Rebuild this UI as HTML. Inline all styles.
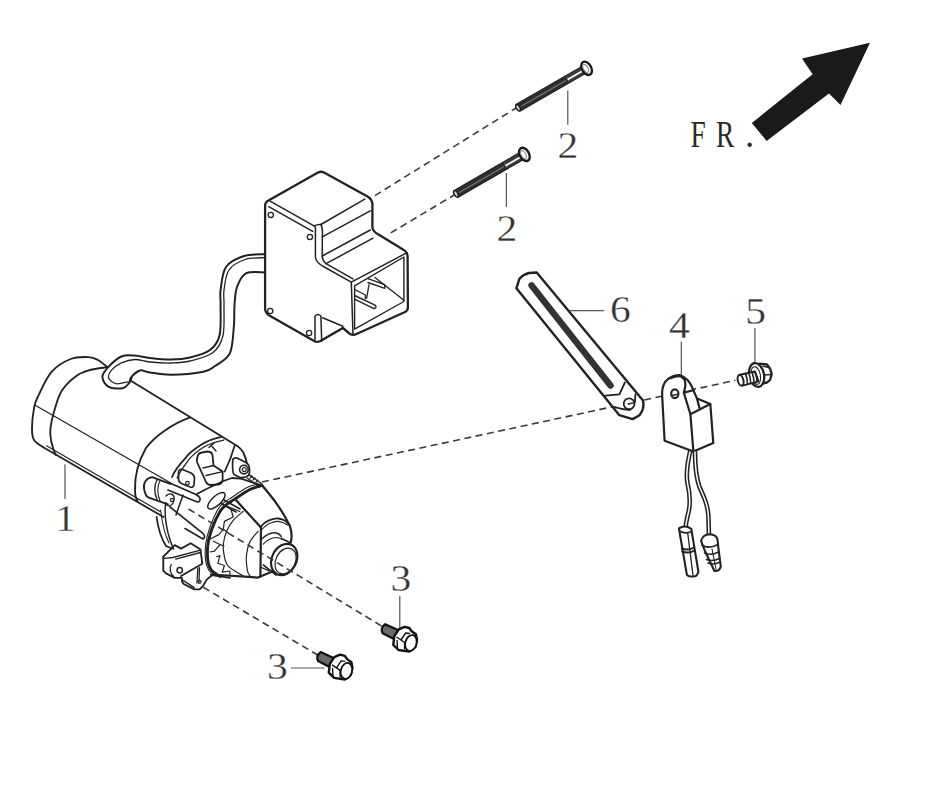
<!DOCTYPE html>
<html><head><meta charset="utf-8"><style>
html,body{margin:0;padding:0;background:#fff;width:947px;height:790px;overflow:hidden}
svg{display:block}
.t{font-family:"Liberation Serif",serif;font-size:36px;fill:#333;stroke:#fff;stroke-width:0.3}
.ln{stroke:#222;stroke-linejoin:round;stroke-linecap:round}
.th{fill:none;stroke:#333;stroke-width:1.1}
.ld{fill:none;stroke:#555;stroke-width:1.2}
.ds{fill:none;stroke:#3a3a3a;stroke-width:1.6;stroke-dasharray:7 4.5}
</style></head><body>
<svg width="947" height="790" viewBox="0 0 947 790" stroke-width="1.8" fill="none">
<rect width="947" height="790" fill="#fff"/>
<!-- FR arrow -->
<polygon points="870,42.7 802,58.5 812.6,74.3 751.8,123 766.6,140.9 829,93.4 840.5,105" fill="#1a1a1a"/>
<g class="t" style="font-size:37px;stroke:none;fill:#2a2a2a">
<text transform="translate(690.5 147.3) scale(0.74 1)">F</text>
<text transform="translate(716 147.3) scale(0.74 1)">R</text>
<text transform="translate(745 147.3)">.</text>
</g>
<!-- labels -->
<g class="t" text-anchor="middle" style="font-size:38.5px">
<text transform="translate(568 157.6) scale(1.08 1)">2</text>
<text transform="translate(507 240.5) scale(1.08 1)">2</text>
<text transform="translate(620.4 321.8) scale(1.08 1)">6</text>
<text transform="translate(679.5 337.8) scale(1.08 1)">4</text>
<text transform="translate(755.7 323.7) scale(1.08 1)">5</text>
<text transform="translate(65.4 531.4) scale(1.08 1)">1</text>
<text transform="translate(400.9 591.4) scale(1.08 1)">3</text>
<text transform="translate(277.3 678.8) scale(1.08 1)">3</text>
</g>
<g class="ld">
<path d="M567.8 90.5V124.7M506.4 173V207M569.8 310.6H604.2M681.3 341.4V375M754.9 328V364.4M65 464.2V499M399.8 596V628.4M291 668H324.4"/>
</g>
<!-- dashed lines -->
<g class="ds">
<path d="M517.7 107L370.2 198.5"/>
<path d="M456 193.9L388 234.5"/>
<path d="M262 482L735.4 380.4"/>
<path d="M203.3 587.3L317.7 655"/>
</g>


<!-- BOX -->
<g class="ln" stroke-width="2.3">
<path d="M265.1 206 Q265.1 202 268.5 200.5 L318 172.5 Q320.9 171 324 172.5 L367.5 196.5 Q372.4 199.5 372.4 204.5 L372.4 227.3 Q373 231.5 378.5 234.5 L403 249.5 Q407.6 252 407.6 257 L407.9 307.5 Q407.9 310.5 405 312 L356.5 334 Q353 335.5 350 334 L342.9 328 L322.6 339.7 Q319 342.8 315 341.5 L270.2 316 Q265.1 313 265.1 309 Z" fill="#fff"/>
</g>
<g class="ln" stroke-width="1.5">
<path d="M270.1 201.2 L314 225.9 Q318 224 320.9 224.5 L364.8 199.1"/>
<path d="M268.7 206.7 L312.7 231.4"/>
<path d="M314 225.9 Q316 226 315.4 232 L315.4 257 Q316 263 324.3 267 L351.3 282.2"/>
<path d="M320.9 224.5 Q323 228 322.3 236.9 L322.3 256 Q322 260 326 263.7 L353 278.9"/>
<path d="M322.3 236.9 L370.3 210.8 M322.3 256 L370.3 230 M326 263.7 L373 238.2"/>
<path d="M351.3 282.2 L407 252.7"/>
<path d="M354.6 285.9 L403.9 257 L403.9 301.5 L354.6 329.2 Z" stroke-width="1.4"/>
<path d="M351.3 282.2 L353 334.6"/>
<path d="M315 316 Q318 313 320.9 316 L321.7 341.4 M315 316 L315 340"/>
<path d="M322.6 317.7 L342.9 326.2 M322.6 339.7 L342.9 327.9"/>
<path d="M375 277.5 L403.9 300.3" stroke-width="1.3"/>
<path d="M367.9 278.7 L384.7 284.7 L384.7 288.3 L368 282.5" stroke-width="1.4"/>
<path d="M354.6 295.5 L375 305.1 Q377.5 307.5 373.9 308.7 L354.6 299.1" stroke-width="1.4"/>
<path d="M354.6 289.5 L365.4 295 L365.4 298.5 M369 284.7 L366.7 298" stroke-width="1.3"/>
</g>
<g class="ln" stroke-width="1.3" fill="#fff">
<circle cx="270.8" cy="214.9" r="2.6"/><circle cx="309.9" cy="236.9" r="2.6"/>
<circle cx="270.2" cy="311" r="2.6"/><circle cx="309.1" cy="333" r="2.6"/>
</g>
<!-- WIRE -->
<g class="ln">
<path d="M265.0 254.2 C261.5 254.5 250.5 253.9 244.0 256.0 C237.5 258.1 229.9 261.3 226.0 267.0 C222.1 272.7 221.5 283.7 220.6 290.0 C219.7 296.3 220.8 297.5 220.6 305.0 C220.4 312.5 221.4 327.7 219.6 335.2 C217.8 342.7 214.9 346.3 210.0 350.0 C205.1 353.7 196.5 355.9 190.0 357.5 C183.5 359.1 177.7 359.4 171.0 359.5 C164.3 359.6 156.1 358.7 150.0 358.0 C143.9 357.3 139.4 355.8 134.6 355.5 C129.8 355.2 125.7 354.6 121.4 356.5 C117.1 358.4 111.9 363.2 108.7 366.6 C105.5 370.0 102.4 373.4 102.4 376.8 C102.4 380.2 105.3 385.0 108.7 386.9 C112.1 388.8 119.3 388.8 122.7 388.2 C126.1 387.6 127.5 384.8 129.0 383.1 C130.5 381.4 131.1 378.9 131.5 378.0" stroke-width="2"/>
<path d="M265.0 257.6 C261.7 257.9 251.0 257.4 245.0 259.5 C239.0 261.6 232.5 264.9 229.0 270.0 C225.5 275.1 224.8 284.2 224.0 290.0 C223.2 295.8 224.2 297.4 224.0 305.0 C223.8 312.6 224.8 327.6 223.0 335.5 C221.2 343.4 218.5 348.2 213.0 352.5 C207.5 356.8 197.0 359.2 190.0 361.0 C183.0 362.8 177.7 362.8 171.0 363.0 C164.3 363.2 156.0 362.6 150.0 362.0 C144.0 361.4 139.8 359.4 135.0 359.5 C130.2 359.6 125.4 361.0 121.4 362.8 C117.5 364.6 113.4 367.9 111.3 370.4 C109.2 372.9 107.9 375.8 108.7 378.0 C109.5 380.2 113.1 383.1 116.3 383.7 C119.5 384.3 125.8 382.1 127.7 381.8" stroke-width="1.3"/>
<path d="M265.0 272.4 C261.8 272.6 250.7 271.0 246.0 273.4 C241.3 275.8 238.9 281.7 237.0 287.0 C235.1 292.3 235.0 298.3 234.5 305.0 C234.0 311.7 234.6 318.9 233.8 327.0 C233.0 335.1 232.9 346.9 229.8 353.4 C226.7 359.9 219.4 362.9 215.0 366.0 C210.6 369.1 210.7 370.2 203.4 371.7 C196.1 373.1 179.9 374.6 171.0 374.7 C162.1 374.8 155.2 373.2 150.0 372.5 C144.8 371.8 143.1 369.7 140.0 370.4 C136.9 371.1 133.2 374.9 131.5 376.8 C129.8 378.7 129.8 381.1 129.5 382.0" stroke-width="2"/>
</g>
<!-- MOTOR -->
<g class="ln" stroke-width="1.85">
<path d="M107.4 367.2 C105.8 366.0 101.2 361.7 98.0 360.0 C94.8 358.3 93.0 357.3 88.4 357.1 C83.9 356.9 76.8 356.6 70.7 359.0 C64.6 361.4 57.2 365.4 51.7 371.7 C46.2 378.0 40.7 390.9 37.7 397.0 C34.8 403.1 35.0 403.1 34.0 408.4 C33.0 413.7 32.0 423.4 32.0 428.7 C32.0 434.0 32.1 436.9 34.0 440.0 C35.9 443.1 41.7 446.1 43.2 447.3"/>
<path d="M43.2 447.3 L163.5 517"/>
<path d="M46.5 445.8 L160 511.5" stroke-width="1.2"/>
<path d="M107.4 367.2 C104.5 367.7 95.1 368.6 90.0 370.0 C84.9 371.4 81.7 372.1 77.0 375.5 C72.3 378.9 65.6 384.8 61.8 390.7 C58.0 396.6 56.1 404.7 54.2 411.0 C52.3 417.3 50.9 423.9 50.4 428.7 C49.9 433.5 50.4 436.4 51.0 440.0 C51.6 443.6 53.0 447.8 53.8 450.3 C54.6 452.8 55.6 454.2 56.0 455.0"/>
<path d="M35.6 405.5 L170.3 482.8" stroke-width="1.3"/>
<path d="M130.4 380.5 L232.8 443.2 Q240 447 243 452 Q246 458 246.9 463.5"/>
<path d="M189.6 417.7 C172 424 155 436 146 448 C138 462 134.5 475 135 490 C135 495 136 499 137.6 500.9"/>
<path d="M220.6 437.1 C212 439 205 442 200.4 445.2 C193 450 188 454 185.2 458.4 C179 465 175 470 172 477"/>
<path d="M223.7 440.2 C213 442.5 205 446 200 449.5 C194 454 190 457 187.5 461.5 C183 467 180 472 177 478" stroke-width="1.2"/>
<path d="M165.8 503 C164.5 510 165 520 168 532.9 C170 540 172 546 173.7 549" stroke-width="1.5"/>
<path d="M156.6 517 C158 528 161 538 166 546 L172 548.5" stroke-width="1.8"/>
<path d="M160.6 510 C162 522 165 535 169 543" stroke-width="1.1"/>
<!-- solenoid -->
<path d="M152.1 477.1 L170.3 483.9 M148.7 497.6 L168 504.4 M152.1 477.1 C146 478 143 483 144.1 489 C145 494 146.5 497 148.7 497.6" />
<path d="M157 480 C154 485 154 493 157 499" stroke-width="1.4"/>
<path d="M160 481 C157 486 157 494 160 500.5" stroke-width="1.1"/>
<path d="M169.2 482.8 L195.4 494.2 Q201 497 200 500 Q199 503 196 501.5 L168 490" stroke-width="1.7"/>
<path d="M166 496 C170 492 175 494 174 500 C173 506 167 508 166 503" stroke-width="1.4"/>
<circle cx="172" cy="500" r="1.6" stroke-width="1.2"/>
<path d="M170 507 L203.2 533.7 Q206 537 203 539 L185 528.6" stroke-width="1.7"/>
<path d="M183 495 L176 515" stroke-width="1.5"/>
<!-- bracket / windows -->
<path d="M178.5 472 Q179 468.5 182.5 469.5 L191 473 Q194 474.5 194.5 478 L194 485 Q193 488 190 487 L181.5 483.5 Q178.5 482 178.5 479 Z" stroke-width="1.7"/>
<circle cx="187.4" cy="483.2" r="1.8" stroke-width="1.3"/>
<path d="M197.5 457 Q198 453 202 452.5 L207.5 451.5 Q212 452 212.5 455 L213.5 465.5 L222.6 471.6 L222.6 480 Q222 484 218 484.5 L211 485 Q207.5 485 206 482 L197 462 Q196.5 459 197.5 457 Z" stroke-width="1.8"/>
<path d="M203 468 L213.5 465.5 M206 475.5 L222.6 471.6" stroke-width="1.3"/>
<path d="M209 447.5 L214 443 M212 446.5 L216 451" stroke-width="1.4"/>
<path d="M234.8 445.2 C232 455 228 465 224.7 471.6" stroke-width="1.7"/>
<path d="M232.8 459.4 Q235 457 238 458.5 L247 463 Q250 466 249.5 472 L249 475 Q246 478 240 477.5 L234 474.5 Q232 472 232.8 459.4 Z" stroke-width="1.7"/>
<circle cx="243.9" cy="469.6" r="4.3" stroke-width="1.6"/>
<circle cx="244.3" cy="469.6" r="2" stroke-width="1.1"/>
<path d="M249 474.6 L262 484 M247 478 L259.5 487" stroke-width="1.4"/>
<path d="M250 478 L252 476 M253 480 L255 478 M256 482.2 L258 480.2" stroke-width="1.2"/>
<path d="M197.3 493.8 C210 487 222 481 232 478 L240.9 478.7 L262.4 485.7" stroke-width="1.8"/>
<ellipse cx="216.4" cy="500.8" rx="11" ry="4.6" transform="rotate(-43 216.4 500.8)" stroke-width="1.5"/>
<!-- ring -->
<path d="M262.0 485.5 C260.0 486.2 254.6 487.2 250.0 489.5 C245.4 491.8 238.3 496.8 234.3 499.4 C230.3 502.0 228.4 503.0 226.0 505.0 C223.6 507.0 222.3 507.7 220.0 511.5 C217.7 515.3 214.3 522.5 212.3 528.0 C210.3 533.5 208.6 539.0 207.9 544.5 C207.2 550.0 207.4 556.8 207.9 561.0 C208.4 565.2 209.2 567.3 211.2 569.9 C213.2 572.5 218.5 575.4 220.0 576.5" stroke-width="2.9"/>
<path d="M258.0 484.0 C256.2 484.6 251.2 485.3 247.0 487.5 C242.8 489.7 236.4 494.4 232.5 497.0 C228.6 499.6 226.0 500.8 223.5 503.0 C221.0 505.2 219.8 506.0 217.5 510.0 C215.2 514.0 212.0 521.3 210.0 527.0 C208.0 532.7 206.4 538.3 205.7 544.0 C205.0 549.7 205.1 556.6 205.7 561.0 C206.2 565.4 207.3 568.0 209.0 570.5 C210.7 573.0 214.8 575.1 216.0 576.0" stroke-width="1.1"/>
<path d="M243.1 511.5 C241.4 513.0 235.9 517.0 233.2 520.3 C230.4 523.6 228.2 527.3 226.6 531.3 C224.9 535.3 223.7 540.3 223.3 544.5 C222.9 548.7 223.7 553.2 224.4 556.7 C225.1 560.2 225.7 562.9 227.7 565.5 C229.7 568.1 233.8 570.3 236.5 572.1 C239.2 573.9 242.9 575.8 244.2 576.5" stroke-width="1.2"/>
<path d="M226.6 506 L239.8 511.5 M231 509.3 L233.2 517 L224.4 521.4 L223.3 529.1 L218.9 534.6 L210.1 539 M223.3 529.1 L227.7 532.4 M213.4 541.2 L220 544.5 L214.5 551.1 L210 552 M216.7 556.7 L220 555.6 L217.8 563.3 L224.4 565.5 L222.2 572.1 L229.9 571 L229.9 575 M220 544.5 L224 546" stroke-width="1.2"/>
<path d="M224 500 L240 509 M221 503.5 L236 512" stroke-width="1.6"/>
<!-- cone -->
<path d="M235.4 499.4 L261 527.6 L260.4 576.5" stroke-width="2.2"/>
<path d="M262.4 485.7 C270 495 280 505 289.9 526.1 C292 532 292 537 290.8 542.3" stroke-width="2.2"/>
<path d="M211 574.5 L258 577.6 L260.4 576.5 L271.8 571.7" stroke-width="2.2"/>
<path d="M258.0 531.3 C256.6 533.1 251.6 538.1 249.7 542.3 C247.8 546.5 246.8 551.9 246.4 556.7 C246.0 561.5 246.9 567.8 247.5 571.0 C248.1 574.2 249.6 575.2 250.0 576.0" stroke-width="1.2"/>
<path d="M260.4 527.1 C263 524 266 521.5 269 520.4 C273 518.8 276 518.2 278.5 518.5 C282 519 284.5 520 286.1 521.4 L290 525.5" stroke-width="1.8"/>
<path d="M261.4 530 C265 526 268 524 270 523.2 C273.5 521.8 276 521.2 278.5 521.4 C282 522 285 523 287.5 525" stroke-width="1.1"/>
<path d="M262.3 538.5 C266 535 270 533 273.7 532.8 C277 532.5 279.5 534 281.3 536.6" stroke-width="1.5"/>
<path d="M263.3 544.2 C267 540 272 537.5 276.6 537.5 Q279.5 537.7 281.5 539" stroke-width="1.1"/>
<path d="M260.4 567 L269 570.8" stroke-width="1.3"/>
<!-- flange -->
<path d="M163.3 556.6 L163.3 570.7 L166 573.4 L174.8 577.8 L181.9 577.8 L181.9 581.4 L183.7 584 L194.3 589.3 L199.6 589.3 L203.1 585.8 L206.7 579.6 L212 575.2 L230 577.8"/>
<path d="M163.3 556.6 L174.8 545.1 L181 548.6 L190.7 543.3 L200.5 549.5 L202.3 563.7 L181 576"/>
<path d="M164.2 558.3 L173 557.5 L199.6 550.4 M175.7 559.2 L200.5 552.5" stroke-width="1.3"/>
<path d="M171.3 564.5 C169 568 170 574 173.9 576.5" stroke-width="1.3"/>
<circle cx="179.7" cy="570.3" r="2.7" stroke-width="1.5"/>
<path d="M181.9 579.6 L194.3 587.6 M197.8 568.1 L197 583.1 M199.5 567.5 L199 582" stroke-width="1.3"/>
<circle cx="199.6" cy="581.8" r="1.5" stroke-width="1.2"/>
</g>
<g class="ln" stroke-width="2">
<path d="M281.3 538.5 L291 543" stroke-width="1.6"/>
<path d="M263.3 565 L271.8 571.7 L276 575" stroke-width="1.6"/>
<ellipse cx="284.2" cy="559.5" rx="12.3" ry="16.3" transform="rotate(26 284.2 559.5)" fill="#fff" stroke-width="2.2"/>
<ellipse cx="285.6" cy="561" rx="9.8" ry="13.5" transform="rotate(26 285.6 561)" stroke-width="1.2"/>
</g>
<!-- bolt 2a and 2b -->
<defs>
<g id="bolt2">
 <path d="M-79 -3.7 L-4 -3.7 L-4 3.7 L-79 3.7 Z" fill="#fff" stroke="#1a1a1a" stroke-width="1.6"/>
 <path d="M-79 -3.7 L-22 -3.7 L-22 3.7 L-79 3.7 Z" fill="#2e2e2e"/>
 <path d="M-76 0.3 L-24 0.3" stroke="#777" stroke-width="1.2"/>
 <path d="M-22 -3.7 L-4 -3.7 L-4 3.7 L-22 3.7 Z" fill="#3a3a3a"/>
 <path d="M-22 0.3 L-5 0.3" stroke="#fff" stroke-width="1.8"/>
 <ellipse cx="-79" cy="0" rx="1.8" ry="3.5" fill="#ccc" stroke="#1a1a1a" stroke-width="1.4"/>
 <ellipse cx="0" cy="0" rx="4.6" ry="7.2" fill="#fff" stroke="#1a1a1a" stroke-width="2.4"/>
 <ellipse cx="-0.8" cy="-0.3" rx="2.2" ry="4.4" fill="#fff" stroke="#888" stroke-width="1"/>
</g>
</defs>
<use href="#bolt2" transform="translate(586.6 68.3) rotate(-29.9)"/>
<use href="#bolt2" transform="translate(524.4 154.4) rotate(-30)"/>
<!-- item 6 -->
<path class="ln" stroke-width="2.4" d="M516.4 288.3 L519.3 279.1 Q523 274.5 529 273 L536.7 272.5 L643 400.6 Q645 408 639.5 415.2 L632.6 419.1 L619.4 415.2 Z" fill="#fff"/>
<path d="M531.6 285.4 L610.5 385.5" stroke="#333" stroke-width="6.5" stroke-linecap="round"/>
<path class="ln" d="M605.4 395.7 L619.4 394.4 L624.9 382.5 M613.8 406.9 Q622 409.5 630 410 M635.4 394.4 L635 402"/>
<circle class="ln" cx="629.1" cy="403.8" r="5.4" fill="#fff"/>
<!-- item 4 -->
<g class="ln" stroke-width="2.2">
<path d="M665.2 381.8 Q661.5 388 662.2 396.2 L664.6 440.7 L693.4 451.5 L713.3 443.1 L710.3 404 L697 398.6 L693.4 390.2 Q689 378 680.2 375.2 Q672 374.5 665.2 381.8 Z" fill="#fff"/>
<path d="M670.6 378.2 Q677 375.5 681 376.5 Q688 380 683.8 392.6 L690.4 414.3 L693.4 451.5 M683.8 392.6 L693.4 390.2 M690.4 414.3 L710.3 404 M697 398.6 L699.5 408.3"/>
<ellipse cx="674.8" cy="393.8" rx="3.6" ry="4.4" fill="#fff"/>
</g>
<!-- wires item 4 -->
<g fill="none" stroke-linecap="round">
<path d="M690 452 C687.5 463 685.5 473 687.5 483 C690 494 691 502 688.5 512 C686.5 520 685.5 525 685.5 530" stroke="#222" stroke-width="4.6"/>
<path d="M695 452 C695 466 696 477 699.5 487 C704 497 708 505 708.5 518 L709 538" stroke="#222" stroke-width="4.6"/>
<path d="M690 452 C687.5 463 685.5 473 687.5 483 C690 494 691 502 688.5 512 C686.5 520 685.5 525 685.5 530" stroke="#fff" stroke-width="1.5"/>
<path d="M695 452 C695 466 696 477 699.5 487 C704 497 708 505 708.5 518 L709 538" stroke="#fff" stroke-width="1.5"/>
</g>
<g class="ln" stroke-width="2.1" stroke="#1a1a1a">
<path d="M678.9 528.3 Q685 524.5 691.3 528.8 L698.4 571.7 Q697 577 693 576.5 Q688 576.5 686.8 574.4 Z" fill="#fff"/>
<path d="M679.5 531 Q685.5 534.5 691.8 531.5" stroke-width="1.6"/>
<path d="M687.7 533 L693 575.3" stroke-width="1.3"/>
<path d="M681.8 548.5 Q688 551 694 547.5 M682.2 551.5 Q688.5 554 694.5 550.5" stroke-width="2"/>
<path d="M701 540.7 Q703 534.5 709.5 534.2 Q716.5 534.5 717.5 539.5 L718.5 549 L720.8 566.4 Q719.5 571.5 714.3 570.8 L704.5 550 Z" fill="#fff"/>
<path d="M701.8 545 Q709 549.5 717.8 544.5" stroke-width="1.6"/>
<path d="M704.5 553 Q711 556 718.5 552 M706.5 559.5 Q712.5 562 719.5 558.5 M708 563 Q713.5 565.5 720 562" stroke-width="1.6"/>
<path d="M712 549 L716 569" stroke-width="1.1"/>
</g>
<!-- bolt 5 -->
<g class="ln" stroke-width="2.3" stroke="#111">
<path d="M759.6 363.7 L767 364.5 L770.1 368.7 L771.7 374 L770.1 379.8 L767 382.5 L762.2 383.5 Z" fill="#fff"/>
<path d="M763 366 L768.5 367.5 M763.5 375 L771 374.5" stroke-width="1.3"/>
<ellipse cx="756.6" cy="375" rx="7.4" ry="12" transform="rotate(-11 756.6 375)" fill="#fff"/>
<ellipse cx="755.8" cy="375.5" rx="4.6" ry="9" transform="rotate(-11 755.8 375.5)" stroke-width="1.1"/>
<path d="M739 375 L754.8 371.4 L758.5 381.4 L742.7 385.6 Z" fill="#fff" stroke-width="2"/>
<ellipse cx="740.6" cy="380.3" rx="2.8" ry="5.4" transform="rotate(-14 740.6 380.3)" fill="#fff" stroke-width="2"/>
<path d="M745.8 374.5 Q747.5 379 747.5 384.3 M749 373.7 Q750.7 378.5 750.7 383.5 M752.2 372.9 Q754 377.5 754 382.6 M755.3 372.2 Q757 376.5 757 381.8" stroke-width="1.6"/>
</g>
<path class="ds" d="M188.5 509L382.4 626.5"/>
<path class="ds" d="M671.5 395.6 L677.5 394.3" style="stroke-dasharray:none"/>
<path class="ds" d="M627.7 404.1 L634 402.7" style="stroke-dasharray:none"/>
<!-- bolt 3 -->
<defs>
<g id="bolt3">
 <path d="M385.2 624.2 L398.5 630.3 L395 639.5 L382.6 633.2 Q380 628 385.2 624.2 Z" fill="#6a6a6a" stroke="#111" stroke-width="2.2" stroke-linejoin="round"/>
 <path d="M398.8 629.3 L404.6 626.8 L409.3 628 L411.6 631.2 L415.9 634.3 L417 639.8 L415.4 646.9 L409.3 651.6 L398.6 650 L393.3 644.8 L394.3 636 Z" fill="#fff" stroke="#111" stroke-width="2.4" stroke-linejoin="round"/>
 <ellipse cx="410.9" cy="643" rx="5.6" ry="8.1" transform="rotate(15 410.9 643)" fill="#fff" stroke="#111" stroke-width="1.8"/>
 <path d="M396.5 637 L401 640 L404.6 642.5 M401 640 L405.6 633 L410 633.5 M404.6 642.5 L404.6 649.5 M397 640 L397.5 648" fill="none" stroke="#111" stroke-width="1.4"/>
</g>
</defs>
<use href="#bolt3"/>
<use href="#bolt3" transform="translate(-64.5 27.9)"/>
</svg>
</body></html>
